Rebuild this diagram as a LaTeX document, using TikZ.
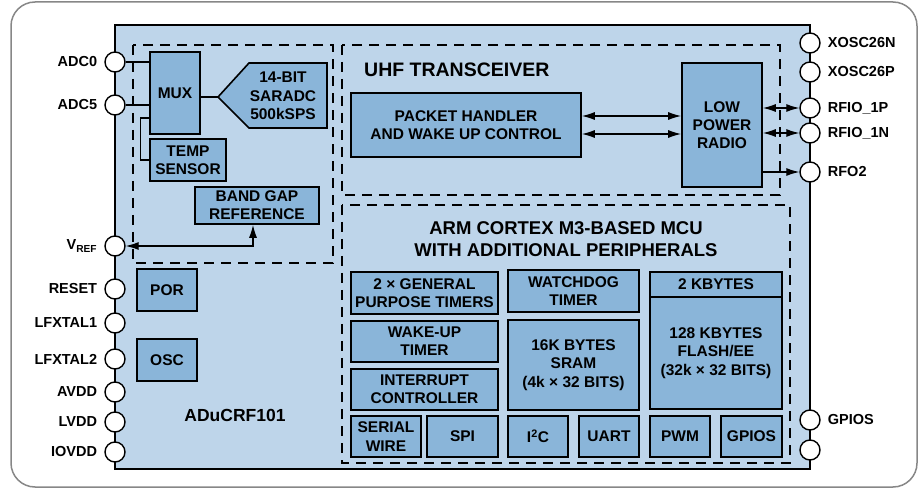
\documentclass[tikz,border=0pt]{standalone}
\usepackage{fontspec}
\setmainfont{Liberation Sans}
\usetikzlibrary{arrows.meta}
\definecolor{chipblue}{RGB}{190,213,234}
\definecolor{blkblue}{RGB}{138,181,217}
\definecolor{framegray}{RGB}{135,135,135}

\begin{document}
\begin{tikzpicture}[x=1pt, y=-1pt,
		blk/.style={draw, fill=blkblue, line width=1.6pt, inner sep=0pt, align=center,
			font=\fontsize{15.5}{18.3}\selectfont\bfseries},
		region/.style={draw, line width=1.4pt, dash pattern=on 10pt off 7pt},
		pin/.style={circle, draw, fill=white, line width=1.4pt, minimum size=20pt, inner sep=0pt},
		pinlbl/.style={font=\fontsize{14.5}{16}\selectfont\bfseries, inner sep=0pt, label distance=7pt},
		wire/.style={line width=1.2pt},
		>={Latex[length=13pt,width=8pt]}]
	\useasboundingbox (0,0) rectangle (922,489);
	\draw[framegray, line width=1.5pt, rounded corners=24pt] (11,2) rectangle (917,487);
	\node[draw, fill=chipblue, line width=2pt, minimum width=695pt, minimum height=444pt, inner sep=0pt] (chip) at (462.5,247) {};
	\node[font=\fontsize{17.5}{20}\selectfont\bfseries] (chipname) at (235,415) {ADuCRF101};
	% dashed regions
	\draw[region] (133,45) rectangle (333,263);
	\draw[region] (342,45) rectangle (780,195);
	\draw[region] (342,205) rectangle (790,463);
	% analog part
	\node[blk, minimum width=50pt, minimum height=82pt] (mux) at (175,93) {MUX};
	\coordinate (adctip) at (218,97);
	\draw[fill=blkblue, line width=1.6pt] (adctip) -- (249,63) -- (327,63) -- (327,128) -- (249,128) -- cycle;
	\node[align=center, font=\fontsize{15.5}{18.3}\selectfont\bfseries] (adc) at (283,96) {14-BIT\\SARADC\\500kSPS};
	\node[blk, minimum width=76pt, minimum height=42pt] (temp) at (188,160) {TEMP\\SENSOR};
	\node[blk, minimum width=124pt, minimum height=37pt] (bandgap) at (257,205.5) {BAND GAP\\REFERENCE};
	\node[blk, minimum width=60pt, minimum height=42pt] (por) at (167,290) {POR};
	\node[blk, minimum width=60pt, minimum height=42pt] (osc) at (167,360) {OSC};
	% transceiver
	\node[anchor=west, inner sep=0pt, font=\fontsize{19.5}{22}\selectfont\bfseries] (uhftitle) at (364,70) {UHF TRANSCEIVER};
	\node[blk, minimum width=230pt, minimum height=64pt] (packet) at (466,125) {PACKET HANDLER\\AND WAKE UP CONTROL};
	\node[blk, minimum width=80pt, minimum height=124pt] (radio) at (722,125) {LOW\\POWER\\RADIO};
	% mcu
	\node[align=center, font=\fontsize{18.5}{21.7}\selectfont\bfseries] (mcutitle) at (566,239) {ARM CORTEX M3-BASED MCU\\WITH ADDITIONAL PERIPHERALS};
	\node[blk, minimum width=147pt, minimum height=42pt] (gpt) at (424.5,293) {2 × GENERAL\\PURPOSE TIMERS};
	\node[blk, minimum width=147pt, minimum height=41pt] (wakeup) at (424.5,341.5) {WAKE-UP\\TIMER};
	\node[blk, minimum width=147pt, minimum height=41pt] (intctrl) at (424.5,389.5) {INTERRUPT\\CONTROLLER};
	\node[blk, minimum width=70pt, minimum height=41pt] (swire) at (386,436.5) {SERIAL\\WIRE};
	\node[blk, minimum width=71pt, minimum height=41pt] (spi) at (462.5,436.5) {SPI};
	\node[blk, minimum width=131pt, minimum height=42pt] (wdt) at (573.5,291) {WATCHDOG\\TIMER};
	\node[blk, minimum width=131pt, minimum height=90pt] (sram) at (573.5,365) {16K BYTES\\SRAM\\(4k × 32 BITS)};
	\node[blk, minimum width=60pt, minimum height=41pt] (itwoc) at (538,436.5) {I\textsuperscript{2}C};
	\node[blk, minimum width=60pt, minimum height=41pt] (uart) at (609,436.5) {UART};
	\node[blk, minimum width=132pt, minimum height=25pt] (kbtwo) at (716,284.5) {2 KBYTES};
	\node[blk, minimum width=132pt, minimum height=112pt] (flash) at (716,353) {128 KBYTES\\FLASH/EE\\(32k × 32 BITS)};
	\node[blk, minimum width=60pt, minimum height=41pt] (pwm) at (680,436.5) {PWM};
	\node[blk, minimum width=61pt, minimum height=41pt] (gpioblk) at (751.5,436.5) {GPIOS};
	% pins
	\foreach \nm/\yy/\txt in {adc0/62/ADC0, adc5/105/ADC5, vref/246/{V\textsubscript{REF}},
			reset/289/RESET, lfxtal1/323/LFXTAL1, lfxtal2/359/LFXTAL2,
			avdd/392/AVDD, lvdd/422/LVDD, iovdd/452/IOVDD}
		\node[pin, label={[pinlbl]left:{\txt}}] (p\nm) at (115,\yy) {};
	\foreach \nm/\yy/\txt in {xosc26n/43/XOSC26N, xosc26p/72/XOSC26P, rfio1p/108/{RFIO\_1P},
			rfio1n/133/{RFIO\_1N}, rfo2/172/RFO2, gpios/420/GPIOS}
		\node[pin, label={[pinlbl]right:{\txt}}] (p\nm) at (810,\yy) {};
	\node[pin] (pspare) at (810,450) {};
	% connections
	\draw[wire] (padc0.east) -- (padc0.east -| mux.west);
	\draw[wire] (padc5.east) -- (padc5.east -| mux.west);
	\draw[wire] (mux.east |- adctip) -- (adctip);
	\draw[wire] ([yshift=-25pt]mux.west) -- ++(-9,0) |- (temp.west);
	\draw[wire, <->] (pvref.east) -| ([xshift=-4pt]bandgap.south);
	\draw[wire, <->] ([yshift=9pt]packet.east) -- ([yshift=9pt]packet.east -| radio.west);
	\draw[wire, <->] ([yshift=-9pt]packet.east) -- ([yshift=-9pt]packet.east -| radio.west);
	\draw[wire, <->] (radio.east |- prfio1p) -- (prfio1p.west);
	\draw[wire, <->] (radio.east |- prfio1n) -- (prfio1n.west);
	\draw[wire, ->] (radio.east |- prfo2) -- (prfo2.west);
\end{tikzpicture}
\end{document}
